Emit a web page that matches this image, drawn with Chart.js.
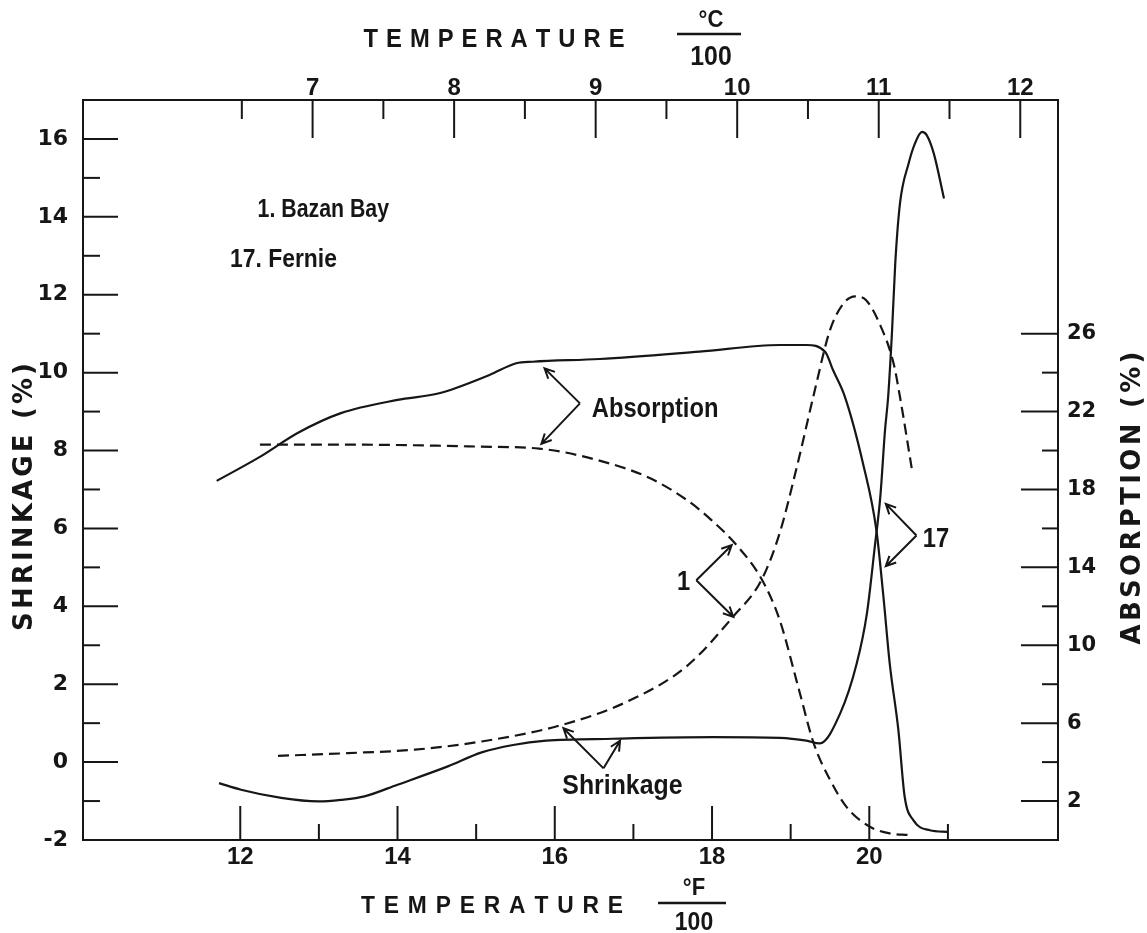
<!DOCTYPE html>
<html>
<head>
<meta charset="utf-8">
<script src="https://cdn.jsdelivr.net/npm/chart.js@4.4.0/dist/chart.umd.min.js"></script>
<style>
  body { margin: 0; background: #fff; }
  canvas { display: block; }
</style>
</head>
<body>
<canvas id="chart" width="1147" height="933"></canvas>
<script>
// temperature is given in °F/100 (bottom axis), top axis is the same range in °C/100
// shrinkage on the left axis (%), absorption on the right axis (%)

// 1. Bazan Bay (dashed)
var shrink1Temp = [12.48, 13.37, 14.22, 15.07, 16.1, 16.95, 17.67, 18.27, 18.63, 18.86, 19.08, 19.29, 19.5, 19.67, 19.82, 19.96, 20.13, 20.31, 20.39, 20.54];
var shrink1 = [0.16, 0.23, 0.32, 0.53, 0.96, 1.58, 2.45, 3.74, 4.68, 5.88, 7.59, 9.4, 11.09, 11.77, 11.96, 11.86, 11.26, 10.23, 9.38, 7.54];
var abs1Temp = [12.25, 13.5, 14.5, 15.05, 15.8, 16.55, 17.2, 17.7, 18.0, 18.3, 18.63, 18.86, 19.1, 19.29, 19.5, 19.71, 20.0, 20.26, 20.5];
var abs1 = [20.3, 20.3, 20.25, 20.2, 20.1, 19.5, 18.6, 17.4, 16.4, 15.2, 13.4, 11.3, 7.8, 5.0, 3.1, 1.7, 0.7, 0.34, 0.26];

// 17. Fernie (solid)
var shrink17Temp = [11.73, 12.01, 12.52, 12.99, 13.28, 13.58, 14.0, 14.64, 15.07, 15.47, 15.89, 16.74, 18.01, 18.86, 19.2, 19.37, 19.63, 19.84, 19.97, 20.07, 20.14, 20.2, 20.24, 20.29, 20.33, 20.39, 20.5, 20.58, 20.67, 20.73, 20.82, 20.95];
var shrink17 = [-0.54, -0.71, -0.92, -1.01, -0.97, -0.88, -0.58, -0.11, 0.25, 0.44, 0.55, 0.6, 0.64, 0.62, 0.55, 0.48, 1.25, 2.53, 3.82, 5.53, 6.81, 8.52, 9.38, 11.09, 12.8, 14.34, 15.37, 15.88, 16.18, 16.1, 15.63, 14.47];
var abs17Temp = [11.7, 12.26, 12.73, 13.28, 14.0, 14.53, 15.17, 15.51, 15.72, 16.57, 17.84, 18.86, 19.2, 19.44, 19.54, 19.69, 19.92, 20.09, 20.18, 20.26, 20.37, 20.45, 20.56, 20.77, 20.99];
var abs17 = [18.44, 19.7, 20.9, 21.92, 22.6, 22.94, 23.88, 24.48, 24.56, 24.7, 25.08, 25.42, 25.42, 25.06, 24.12, 22.76, 19.34, 15.92, 12.48, 9.06, 5.64, 2.22, 1.02, 0.5, 0.42];

// ticks
var fTicks = [12, 13, 14, 15, 16, 17, 18, 19, 20, 21];
var fLabels = [12, 14, 16, 18, 20];
var cTicks = [6.5, 7, 7.5, 8, 8.5, 9, 9.5, 10, 10.5, 11, 11.5, 12];
var cLabels = [7, 8, 9, 10, 11, 12];
var shrinkTicks = [-2, -1, 0, 1, 2, 3, 4, 5, 6, 7, 8, 9, 10, 11, 12, 13, 14, 15, 16];
var shrinkLabels = [-2, 0, 2, 4, 6, 8, 10, 12, 14, 16];
var absTicks = [2, 4, 6, 8, 10, 12, 14, 16, 18, 20, 22, 24, 26];
var absLabels = [2, 6, 10, 14, 18, 22, 26];

var fMin = 10, fMax = 22.4;
var ink = '#161616';
var sans = "'Liberation Sans', Arial, sans-serif";
var wide = "'DejaVu Sans', sans-serif";

function pts(xs, ys) {
  return xs.map(function (x, i) { return { x: x, y: ys[i] }; });
}
function useTicks(list) {
  return function (scale) { scale.ticks = list.map(function (v) { return { value: v }; }); };
}
function onlyLabels(list) {
  return function (v) { return list.indexOf(v) >= 0 ? String(v) : ''; };
}

// letter-spaced text, centred on cx, squeezed horizontally by sx
function spaced(ctx, text, cx, y, width, sx) {
  sx = sx || 1;
  var chars = text.split('');
  var sum = 0;
  chars.forEach(function (c) { sum += ctx.measureText(c).width * sx; });
  var gap = chars.length > 1 ? (width - sum) / (chars.length - 1) : 0;
  var x = cx - width / 2;
  ctx.textAlign = 'left';
  chars.forEach(function (c) {
    ctx.save();
    ctx.translate(x, y);
    ctx.scale(sx, 1);
    ctx.fillText(c, 0, 0);
    ctx.restore();
    x += ctx.measureText(c).width * sx + gap;
  });
}

// condensed lettering like the original stencil text
function narrowText(ctx, text, x, y, align, sx) {
  ctx.save();
  ctx.translate(x, y);
  ctx.scale(sx || 0.88, 1);
  ctx.textAlign = align || 'left';
  ctx.fillText(text, 0, 0);
  ctx.restore();
}

function arrow(ctx, x1, y1, x2, y2) {
  var a = Math.atan2(y2 - y1, x2 - x1), h = 11;
  ctx.beginPath();
  ctx.moveTo(x1, y1);
  ctx.lineTo(x2, y2);
  ctx.moveTo(x2 - h * Math.cos(a - 0.45), y2 - h * Math.sin(a - 0.45));
  ctx.lineTo(x2, y2);
  ctx.lineTo(x2 - h * Math.cos(a + 0.45), y2 - h * Math.sin(a + 0.45));
  ctx.stroke();
}

// tick marks point into the plot
var insideTicks = {
  id: 'insideTicks',
  afterDatasetsDraw: function (chart) {
    var ctx = chart.ctx, a = chart.chartArea, s = chart.scales;
    ctx.save();
    ctx.strokeStyle = ink;
    ctx.lineWidth = 2;
    function mark(x1, y1, x2, y2) { ctx.beginPath(); ctx.moveTo(x1, y1); ctx.lineTo(x2, y2); ctx.stroke(); }
    fTicks.forEach(function (v) {
      var x = s.x.getPixelForValue(v);
      mark(x, a.bottom, x, a.bottom - (fLabels.indexOf(v) >= 0 ? 34 : 16));
    });
    cTicks.forEach(function (v) {
      var x = s.x2.getPixelForValue(v);
      mark(x, a.top, x, a.top + (cLabels.indexOf(v) >= 0 ? 38 : 19));
    });
    shrinkTicks.forEach(function (v) {
      var y = s.y.getPixelForValue(v);
      mark(a.left, y, a.left + (shrinkLabels.indexOf(v) >= 0 ? 35 : 17), y);
    });
    absTicks.forEach(function (v) {
      var y = s.y2.getPixelForValue(v);
      mark(a.right, y, a.right - (absLabels.indexOf(v) >= 0 ? 37 : 16), y);
    });
    ctx.restore();
  }
};

var notes = {
  id: 'notes',
  afterDraw: function (chart) {
    var ctx = chart.ctx, s = chart.scales;
    function px(f) { return s.x.getPixelForValue(f); }
    function py(v) { return s.y.getPixelForValue(v); }
    ctx.save();
    ctx.fillStyle = ink;
    ctx.strokeStyle = ink;
    ctx.textBaseline = 'alphabetic';

    // top title
    ctx.font = 'bold 25px ' + sans;
    spaced(ctx, 'TEMPERATURE', 494, 47, 261, 0.95);
    ctx.font = 'bold 24px ' + sans;
    narrowText(ctx, '°C', 711, 27, 'center', 0.92);
    ctx.font = 'bold 27px ' + sans;
    narrowText(ctx, '100', 711, 65, 'center', 0.92);
    ctx.lineWidth = 2.5;
    ctx.beginPath(); ctx.moveTo(677, 34); ctx.lineTo(741, 34); ctx.stroke();

    // bottom title
    ctx.font = 'bold 24px ' + sans;
    spaced(ctx, 'TEMPERATURE', 492, 913, 262, 0.95);
    narrowText(ctx, '°F', 694, 895, 'center', 0.92);
    ctx.font = 'bold 25px ' + sans;
    narrowText(ctx, '100', 694, 930, 'center', 0.92);
    ctx.beginPath(); ctx.moveTo(658, 903); ctx.lineTo(726, 903); ctx.stroke();

    // side titles
    ctx.font = 'bold 26px ' + wide;
    ctx.save();
    ctx.translate(32, 497);
    ctx.rotate(-Math.PI / 2);
    spaced(ctx, 'SHRINKAGE (%)', 0, 0, 268);
    ctx.restore();
    ctx.save();
    ctx.translate(1140, 498);
    ctx.rotate(-Math.PI / 2);
    spaced(ctx, 'ABSORPTION (%)', 0, 0, 293);
    ctx.restore();

    // sample names
    ctx.font = 'bold 26px ' + sans;
    narrowText(ctx, '1. Bazan Bay', px(12.22), py(14.0), 'left', 0.82);
    narrowText(ctx, '17. Fernie', px(11.87), py(12.71), 'left', 0.88);

    // curve labels with arrows
    ctx.font = 'bold 27px ' + sans;
    narrowText(ctx, 'Absorption', px(16.47), py(8.87), 'left', 0.88);
    narrowText(ctx, 'Shrinkage', px(16.86), py(-0.82), 'center', 0.92);
    narrowText(ctx, '1', px(17.64), py(4.65) + 9, 'center');
    narrowText(ctx, '17', px(20.68), py(5.75) + 9);

    ctx.lineWidth = 2;
    arrow(ctx, px(16.32), py(9.21), px(15.87), py(10.11));
    arrow(ctx, px(16.32), py(9.21), px(15.83), py(8.17));
    arrow(ctx, px(17.80), py(4.67), px(18.25), py(5.57));
    arrow(ctx, px(17.80), py(4.67), px(18.27), py(3.73));
    arrow(ctx, px(20.60), py(5.82), px(20.21), py(6.63));
    arrow(ctx, px(20.60), py(5.82), px(20.21), py(5.03));
    arrow(ctx, px(16.62), py(-0.16), px(16.11), py(0.87));
    arrow(ctx, px(16.62), py(-0.16), px(16.83), py(0.55));
    ctx.restore();
  }
};

function curve(label, xs, ys, axis, dashed) {
  return {
    label: label,
    data: pts(xs, ys),
    yAxisID: axis,
    borderColor: ink,
    borderWidth: 2.2,
    borderDash: dashed ? [11, 6] : [],
    pointRadius: 0,
    fill: false,
    cubicInterpolationMode: 'monotone'
  };
}

new Chart(document.getElementById('chart'), {
  type: 'line',
  data: {
    datasets: [
      curve('Absorption 17', abs17Temp, abs17, 'y2', false),
      curve('Shrinkage 17', shrink17Temp, shrink17, 'y', false),
      curve('Absorption 1', abs1Temp, abs1, 'y2', true),
      curve('Shrinkage 1', shrink1Temp, shrink1, 'y', true)
    ]
  },
  options: {
    responsive: false,
    animation: false,
    events: [],
    layout: { padding: 0 },
    plugins: { legend: { display: false }, tooltip: { enabled: false } },
    scales: {
      x: {
        type: 'linear', position: 'bottom', min: fMin, max: fMax,
        afterBuildTicks: useTicks(fTicks),
        afterFit: function (sc) { sc.height = 93; },
        grid: { display: false, drawTicks: false },
        border: { display: true, color: ink, width: 2 },
        ticks: { callback: onlyLabels(fLabels), autoSkip: false, maxRotation: 0, padding: 5, color: ink,
                 font: { family: sans, size: 24, weight: 'bold', lineHeight: 1 } }
      },
      x2: {
        type: 'linear', position: 'top', min: (fMin - 0.32) / 1.8, max: (fMax - 0.32) / 1.8,
        afterBuildTicks: useTicks(cTicks),
        afterFit: function (sc) { sc.height = 100; },
        grid: { display: false, drawTicks: false },
        border: { display: true, color: ink, width: 2 },
        ticks: { callback: onlyLabels(cLabels), autoSkip: false, maxRotation: 0, padding: 0, color: ink,
                 font: { family: sans, size: 24, weight: 'bold', lineHeight: 1 } }
      },
      y: {
        type: 'linear', position: 'left', min: -2, max: 17,
        afterBuildTicks: useTicks(shrinkTicks),
        afterFit: function (sc) { sc.width = 83; },
        grid: { display: false, drawTicks: false },
        border: { display: true, color: ink, width: 2 },
        ticks: { callback: onlyLabels(shrinkLabels), autoSkip: false, padding: 15, color: ink,
                 font: { family: wide, size: 22, weight: 'bold' } }
      },
      y2: {
        type: 'linear', position: 'right', min: 0, max: 38,
        afterBuildTicks: useTicks(absTicks),
        afterFit: function (sc) { sc.width = 89; },
        grid: { display: false, drawTicks: false },
        border: { display: true, color: ink, width: 2 },
        ticks: { callback: onlyLabels(absLabels), autoSkip: false, padding: 9, color: ink,
                 font: { family: wide, size: 21, weight: 'bold' } }
      }
    }
  },
  plugins: [insideTicks, notes]
});
</script>
</body>
</html>
